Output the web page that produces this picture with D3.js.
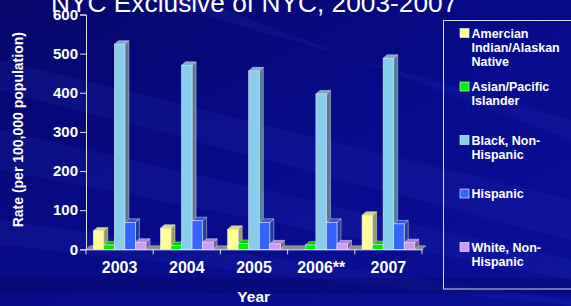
<!DOCTYPE html>
<html>
<head>
<meta charset="utf-8">
<script src="https://cdn.jsdelivr.net/npm/d3@7"></script>
<style>
  html, body { margin: 0; padding: 0; background: #06087a; }
  svg { display: block; font-family: "Liberation Sans", Arial, sans-serif; }
</style>
</head>
<body>
<div id="chart"></div>
<script>
// Data
const years = ["2003", "2004", "2005", "2006**", "2007"];
const amerIndian = [47, 54, 51, 0, 87];
const asianPacific = [11, 10, 15, 11, 12];
const blackNonHisp = [524, 470, 456, 397, 488];
const hispanic = [69, 73, 69, 69, 65];
const whiteNonHisp = [18, 18, 14, 14, 17];
const yTicks = [0, 100, 200, 300, 400, 500, 600];

const seriesNames = [
  "Amercian Indian/Alaskan Native",
  "Asian/Pacific Islander",
  "Black, Non-Hispanic",
  "Hispanic",
  "White, Non-Hispanic",
];
const legendLines = [
  ["Amercian", "Indian/Alaskan", "Native"],
  ["Asian/Pacific", "Islander"],
  ["Black, Non-", "Hispanic"],
  ["Hispanic"],
  ["White, Non-", "Hispanic"],
];
const seriesValues = [amerIndian, asianPacific, blackNonHisp, hispanic, whiteNonHisp];
const colors = ["#ffff99", "#00f000", "#87ceeb", "#3366ff", "#cc99ff"];

const width = 571;
const height = 306;
const marginLeft = 86;
const plotRight = 422;
const yBottom = 249.3;
const yTop = 14.5;
const depthX = 4;
const depthY = 3.5;

const svg = d3.create("svg").attr("width", width).attr("height", height);

// Background: dark blue with diagonal streaks
const defs = svg.append("defs");
const bg = defs.append("linearGradient").attr("id", "bg")
  .attr("x1", 0).attr("y1", 0).attr("x2", 1).attr("y2", 1);
bg.append("stop").attr("offset", "0%").attr("stop-color", "#05066a");
bg.append("stop").attr("offset", "55%").attr("stop-color", "#070b8c");
bg.append("stop").attr("offset", "100%").attr("stop-color", "#0a0f98");
svg.append("rect").attr("width", width).attr("height", height).attr("fill", "url(#bg)");

const streaks = [
  [[0, 60], [571, 200], [571, 240], [0, 90]],
  [[0, 130], [571, 260], [571, 280], [0, 170]],
  [[150, 0], [571, 120], [571, 140], [200, 0]],
  [[0, 220], [571, 300], [571, 306], [0, 245]],
];
svg.append("g").selectAll("path").data(streaks).join("path")
  .attr("d", (d) => d3.line()(d) + "Z")
  .attr("fill", "#3a4cd8")
  .attr("opacity", 0.12);
svg.append("rect").attr("x", 0).attr("y", 278).attr("width", width).attr("height", 16)
  .attr("fill", "#03055a").attr("opacity", 0.35);

// Title (cut off at the top of the slide)
svg.append("text")
  .attr("x", 51).attr("y", 12)
  .attr("fill", "#ffffff")
  .attr("font-size", 26.3)
  .text("NYC Exclusive of NYC, 2003-2007");

// Scales
const x0 = d3.scaleBand(years, [marginLeft, plotRight]).paddingInner(0.216).paddingOuter(0.108);
const x1 = d3.scaleBand(d3.range(seriesNames.length), [0, x0.bandwidth()]);
const y = d3.scaleLinear([0, 600], [yBottom, yTop]);

// Floor
svg.append("path")
  .attr("d", d3.line()([
    [marginLeft, yBottom], [plotRight, yBottom],
    [plotRight + depthX, yBottom - depthY], [marginLeft + depthX, yBottom - depthY],
  ]) + "Z")
  .attr("fill", "#8a8a8a")
  .attr("stroke", "#b0b0b0")
  .attr("stroke-width", 0.6);

// Bars (3D look: front, top, side)
const bars = [];
years.forEach((yr, gi) => {
  seriesValues.forEach((vals, si) => {
    bars.push({ year: yr, series: si, value: vals[gi] });
  });
});

const barG = svg.append("g");
bars.filter((d) => d.value > 0).forEach((d) => {
  const bx = x0(d.year) + x1(d.series);
  const bw = x1.bandwidth();
  const top = y(d.value);
  const base = y(0);
  const c = d3.color(colors[d.series]);
  const g = barG.append("g");
  g.append("path")
    .attr("d", d3.line()([[bx + bw, top], [bx + bw + depthX, top - depthY],
      [bx + bw + depthX, base - depthY], [bx + bw, base]]) + "Z")
    .attr("fill", c.darker(1.4))
    .attr("stroke", "#d8d8e8").attr("stroke-width", 0.5);
  g.append("path")
    .attr("d", d3.line()([[bx, top], [bx + depthX, top - depthY],
      [bx + bw + depthX, top - depthY], [bx + bw, top]]) + "Z")
    .attr("fill", c.darker(0.45))
    .attr("stroke", "#d8d8e8").attr("stroke-width", 0.5);
  g.append("rect")
    .attr("x", bx).attr("y", top)
    .attr("width", bw).attr("height", base - top)
    .attr("fill", c)
    .attr("stroke", "#e8e8f4").attr("stroke-width", 0.6);
});

// Y axis
svg.append("g")
  .attr("transform", `translate(${marginLeft},0)`)
  .call(d3.axisLeft(y).tickValues(yTicks).tickSize(6).tickPadding(2))
  .call((g) => g.selectAll("path, line").attr("stroke", "#e0e0e0"))
  .call((g) => g.selectAll("text")
    .attr("fill", "#ffffff")
    .attr("font-size", 15)
    .attr("font-weight", "bold")
    .attr("font-family", "Liberation Sans, Arial, sans-serif"));

// X axis
svg.append("g")
  .attr("transform", `translate(0,${yBottom})`)
  .call(d3.axisBottom(x0).tickSize(0).tickPadding(12))
  .call((g) => g.select(".domain").attr("stroke", "#e8e8e8"))
  .call((g) => g.selectAll("text")
    .attr("fill", "#ffffff")
    .attr("font-size", 16)
    .attr("font-weight", "bold")
    .attr("font-family", "Liberation Sans, Arial, sans-serif"));

// category separators on the x axis
const step = x0.step();
svg.append("g").selectAll("line")
  .data(d3.range(years.length + 1))
  .join("line")
  .attr("x1", (i) => marginLeft + i * step).attr("x2", (i) => marginLeft + i * step)
  .attr("y1", yBottom).attr("y2", yBottom + 5)
  .attr("stroke", "#e0e0e0");

// Axis titles
svg.append("text")
  .attr("x", 253.7).attr("y", 301.5)
  .attr("text-anchor", "middle")
  .attr("fill", "#ffffff")
  .attr("font-size", 15.5).attr("font-weight", "bold")
  .text("Year");

svg.append("text")
  .attr("transform", "translate(22.5,129.7) rotate(-90)")
  .attr("text-anchor", "middle")
  .attr("fill", "#ffffff")
  .attr("font-size", 14).attr("font-weight", "bold")
  .text("Rate (per 100,000 population)");

// Legend
svg.append("rect")
  .attr("x", 443.5).attr("y", 20.5)
  .attr("width", 140).attr("height", 268.5)
  .attr("fill", "none")
  .attr("stroke", "#d8d8e8").attr("stroke-width", 1);

const legend = svg.append("g").selectAll("g")
  .data(seriesNames)
  .join("g")
  .attr("transform", (d, i) => `translate(460,${33 + i * 53.5})`);

legend.append("rect")
  .attr("x", 0).attr("y", -4.5).attr("width", 9).attr("height", 9)
  .attr("fill", (d, i) => colors[i])
  .attr("stroke", "#ffffff").attr("stroke-width", 0.6);

legend.append("text")
  .attr("fill", "#ffffff")
  .attr("font-size", 12.5).attr("font-weight", "bold")
  .selectAll("tspan")
  .data((d, i) => legendLines[i])
  .join("tspan")
  .attr("x", 11.5)
  .attr("y", (d, j) => 4.5 + j * 14.2)
  .text((d) => d);

d3.select("#chart").node().appendChild(svg.node());
</script>
</body>
</html>
